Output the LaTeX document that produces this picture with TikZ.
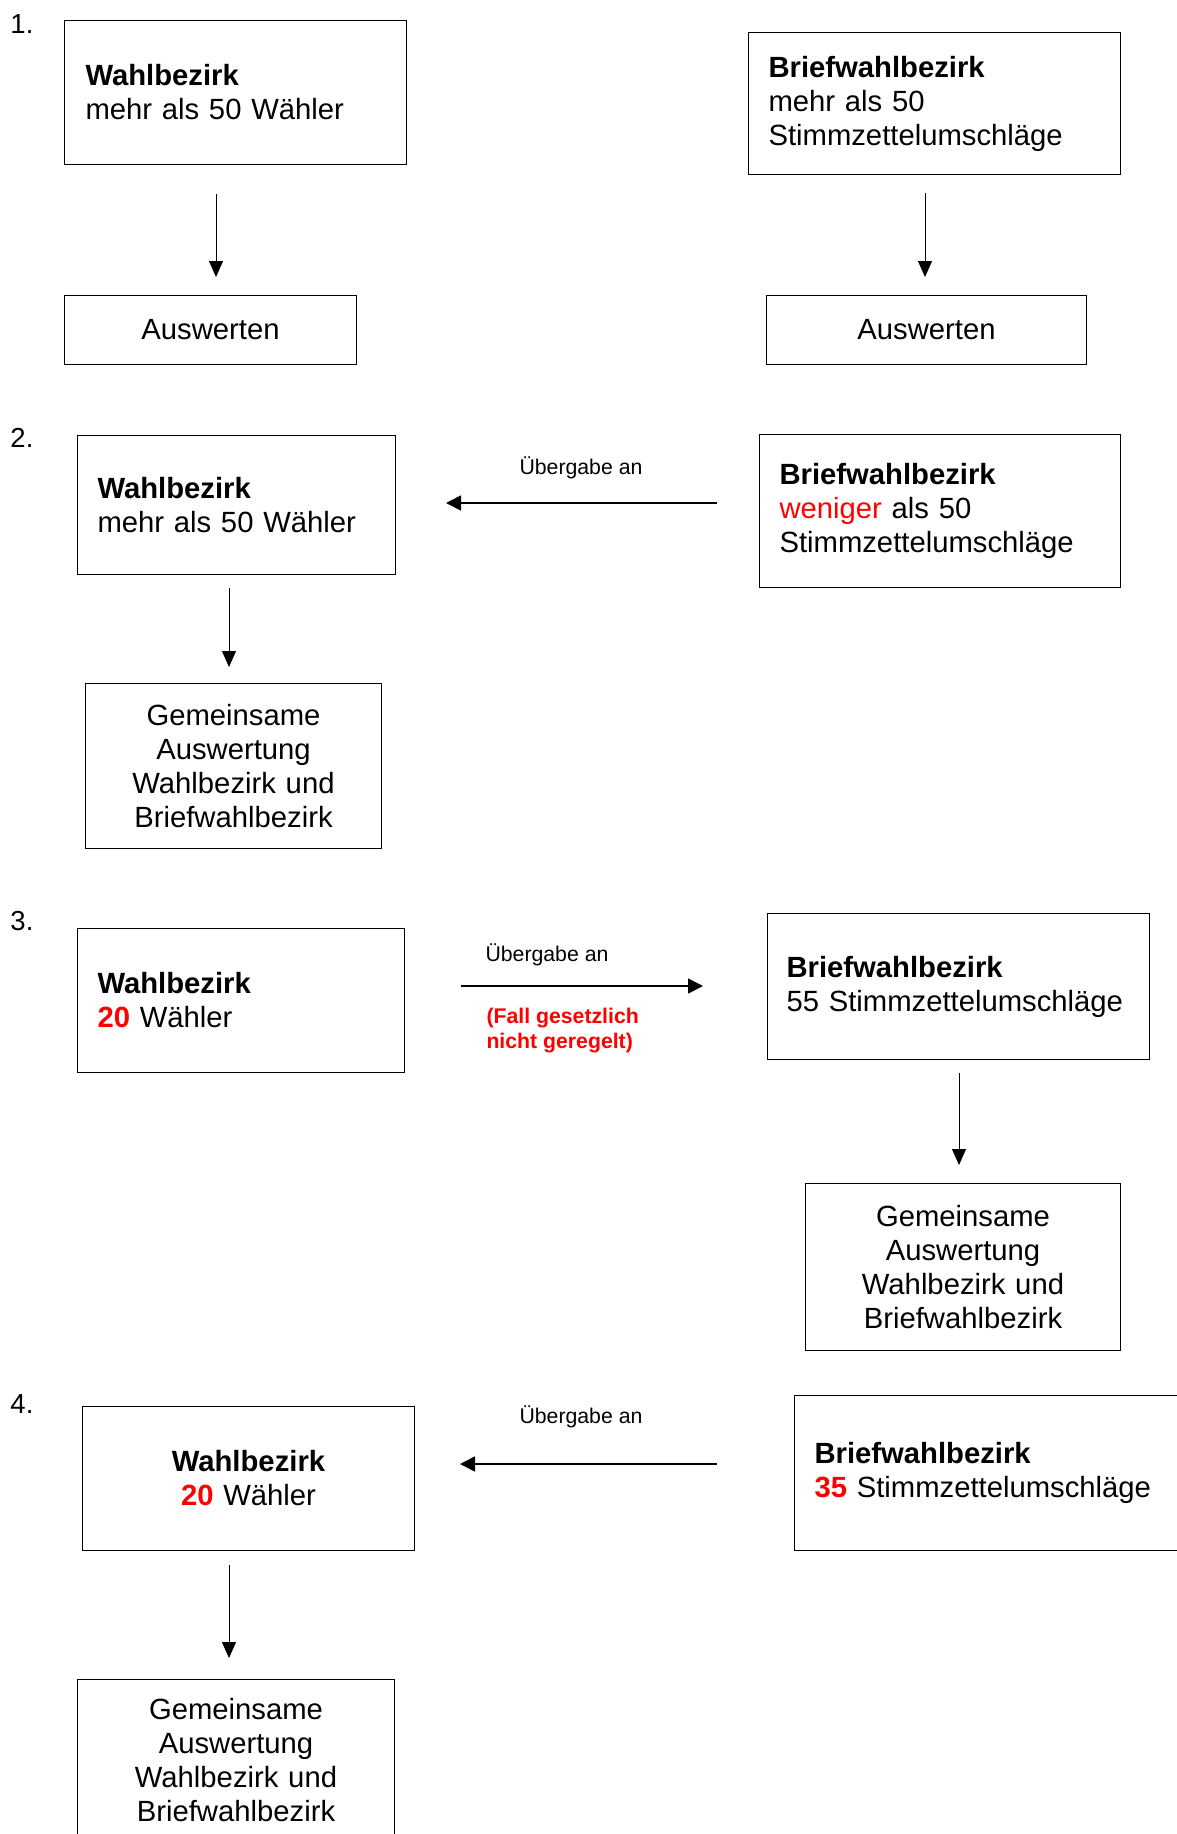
\documentclass[tikz,border=0pt]{standalone}
\usepackage{fontspec}
\setmainfont{Liberation Sans}
\usepackage{tikz}
\usetikzlibrary{
	positioning,
	arrows.meta
}

\tikzset{
	every node/.style={font=\fontsize{11.7}{13.6}\selectfont},
	kasten/.style={draw, line width=0.4pt, anchor=north west, inner ysep=0pt, align=left},
	mitte/.style={kasten, align=center},
	klein/.style={font=\fontsize{8.5}{10}\selectfont, inner sep=0pt},
	hinweis/.style={font=\fontsize{8.5}{10}\selectfont\bfseries, text=red, inner sep=0pt, align=left},
	nr/.style={font=\fontsize{11}{13}\selectfont, inner sep=0pt, anchor=base west},
	pfeil/.style={-{Triangle[length=6.4pt,width=5.6pt]}, line width=0.4pt},
	dickpfeil/.style={-{Triangle[length=6pt,width=6pt]}, line width=0.7pt}
}

\begin{document}
\begin{tikzpicture}[x=0.4pt,y=-0.4pt]
		\path[use as bounding box] (0,0) rectangle (1177,1834);
		\clip (0,0) rectangle (1177,1834);

		\node[nr] (n1) at (10,33)   {1.};
		\node[nr] (n2) at (10,447)  {2.};
		\node[nr] (n3) at (10,930)  {3.};
		\node[nr] (n4) at (10,1413) {4.};

		\node[kasten, minimum width=136.8pt, minimum height=57.6pt, text width=120pt, inner xsep=8.4pt]
			(wb1) at (64,20) {\textbf{Wahlbezirk}\\mehr als 50 Wähler};
		\node[kasten, minimum width=148.8pt, minimum height=56.8pt, text width=132.8pt, inner xsep=8pt]
			(bwb1) at (748,32) {\textbf{Briefwahlbezirk}\\mehr als 50\\Stimmzettelumschläge};
		\node[mitte, minimum width=116.8pt, minimum height=27.6pt, text width=100.8pt, inner xsep=8pt]
			(ausw1a) at (64,295) {Auswerten};
		\node[mitte, minimum width=128pt, minimum height=27.6pt, text width=112pt, inner xsep=8pt]
			(ausw1b) at (766,295) {Auswerten};

		\node[kasten, minimum width=127.2pt, minimum height=55.6pt, text width=111.2pt, inner xsep=8pt]
			(wb2) at (77,435) {\textbf{Wahlbezirk}\\mehr als 50 Wähler};
		\node[kasten, minimum width=144.4pt, minimum height=61.2pt, text width=128.4pt, inner xsep=8pt]
			(bwb2) at (759,434) {\textbf{Briefwahlbezirk}\\\textcolor{red}{weniger} als 50\\Stimmzettelumschläge};
		\node[mitte, minimum width=118.4pt, minimum height=66pt, text width=102.4pt, inner xsep=8pt]
			(gem2) at (85,683) {Gemeinsame\\Auswertung\\Wahlbezirk und\\Briefwahlbezirk};
		\node[klein] (ueb2) at (581,468) {Übergabe an};

		\node[kasten, minimum width=130.8pt, minimum height=57.6pt, text width=114.8pt, inner xsep=8pt]
			(wb3) at (77,928) {\textbf{Wahlbezirk}\\\textcolor{red}{\textbf{20}} Wähler};
		\node[kasten, minimum width=152.8pt, minimum height=58.4pt, text width=137.6pt, inner xsep=7.6pt]
			(bwb3) at (767,913) {\textbf{Briefwahlbezirk}\\55 Stimmzettelumschläge};
		\node[mitte, minimum width=126pt, minimum height=66.8pt, text width=110pt, inner xsep=8pt]
			(gem3) at (805,1183) {Gemeinsame\\Auswertung\\Wahlbezirk und\\Briefwahlbezirk};
		\node[klein] (ueb3) at (547,955) {Übergabe an};
		\node[hinweis, anchor=north west] (fall3) at (486,1008) {(Fall gesetzlich\\nicht geregelt)};

		\node[mitte, minimum width=132.8pt, minimum height=57.6pt, text width=116.8pt, inner xsep=8pt]
			(wb4) at (82,1406) {\textbf{Wahlbezirk}\\\textcolor{red}{\textbf{20}} Wähler};
		\node[kasten, minimum width=160pt, minimum height=62pt, text width=144pt, inner xsep=8pt]
			(bwb4) at (794,1395) {\textbf{Briefwahlbezirk}\\\textcolor{red}{\textbf{35}} Stimmzettelumschläge};
		\node[mitte, minimum width=126.8pt, minimum height=64.8pt, text width=110.8pt, inner xsep=8pt]
			(gem4) at (77,1679) {Gemeinsame\\Auswertung\\Wahlbezirk und\\Briefwahlbezirk};
		\node[klein] (ueb4) at (581,1417) {Übergabe an};

		\draw[pfeil, shorten <=11.6pt, shorten >=7.2pt] (wb1.south -| 216,0) -- (ausw1a.north -| 216,0);
		\draw[pfeil, shorten <=7.2pt, shorten >=7.2pt] (bwb1.south -| 925,0) -- (ausw1b.north -| 925,0);
		\draw[dickpfeil, shorten <=16.8pt, shorten >=20pt] (bwb2.west |- 0,503) -- (wb2.east |- 0,503);
		\draw[pfeil, shorten <=5.2pt, shorten >=6.4pt] (wb2.south -| 229,0) -- (gem2.north -| 229,0);
		\draw[dickpfeil, shorten <=22.4pt, shorten >=25.6pt] (wb3.east |- 0,986) -- (bwb3.west |- 0,986);
		\draw[pfeil, shorten <=5.2pt, shorten >=7.2pt] (bwb3.south -| 959,0) -- (gem3.north -| 959,0);
		\draw[dickpfeil, shorten <=30.8pt, shorten >=18pt] (bwb4.west |- 0,1464) -- (wb4.east |- 0,1464);
		\draw[pfeil, shorten <=5.6pt, shorten >=8.4pt] (wb4.south -| 229,0) -- (gem4.north -| 229,0);
	\end{tikzpicture}
\end{document}
